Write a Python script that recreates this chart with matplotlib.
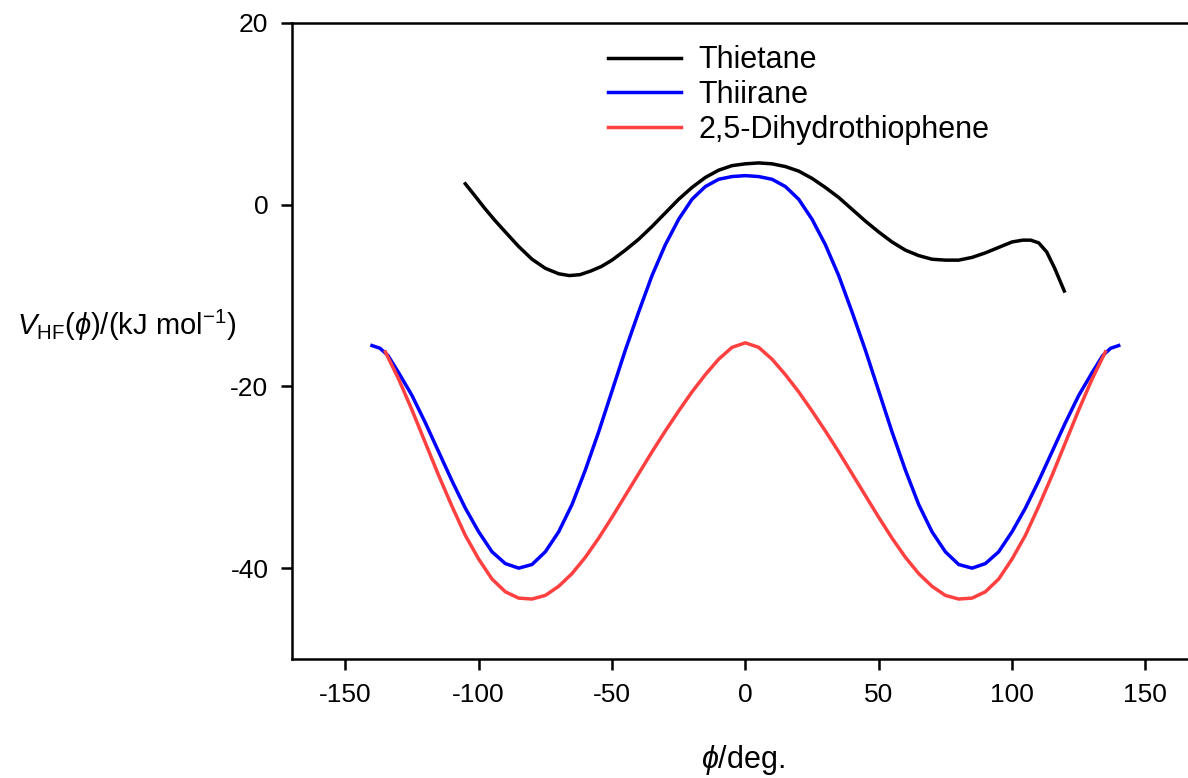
import matplotlib
matplotlib.use('Agg')
import matplotlib.pyplot as plt

plt.rcParams['font.family'] = ['Liberation Sans', 'DejaVu Sans']
plt.rcParams['mathtext.fontset'] = 'custom'
plt.rcParams['mathtext.rm'] = 'Liberation Sans'
plt.rcParams['mathtext.it'] = 'Liberation Sans:italic'
plt.rcParams['mathtext.fallback'] = 'stixsans'
plt.rcParams['axes.unicode_minus'] = False

# Thietane
phi_thietane = [-105, -102, -98, -94, -90, -85, -80, -75, -70, -66, -62, -58, -54, -50, -45, -40, -35, -30, -25,
                -20, -15, -10, -5, 0, 5, 10, 15, 20, 25, 30, 35, 40, 45, 50, 55, 60, 65, 70, 75, 80, 85, 90, 95,
                100, 104, 107, 110, 113, 116, 119.6]
v_thietane = [2.3, 1.2, -0.3, -1.7, -3.0, -4.6, -6.0, -7.0, -7.6, -7.8, -7.7, -7.3, -6.8, -6.1, -5.0, -3.8, -2.4,
              -0.9, 0.6, 1.9, 3.0, 3.8, 4.3, 4.5, 4.6, 4.5, 4.2, 3.7, 2.9, 1.9, 0.8, -0.5, -1.8, -3.0, -4.1, -5.0,
              -5.6, -6.0, -6.1, -6.1, -5.8, -5.3, -4.7, -4.1, -3.9, -3.9, -4.2, -5.2, -7.0, -9.5]

# Thiirane
phi_thiirane = [-140, -137, -134, -130, -125, -120, -115, -110, -105, -100, -95, -90, -85, -80, -75, -70, -65,
                -60, -55, -50, -45, -40, -35, -30, -25, -20, -15, -10, -5, 0,
                5, 10, 15, 20, 25, 30, 35, 40, 45, 50, 55, 60, 65, 70, 75, 80, 85, 90, 95, 100, 105, 110, 115,
                120, 125, 130, 134, 137, 140]
v_thiirane = [-15.5, -15.8, -16.6, -18.5, -21.0, -24.0, -27.2, -30.4, -33.4, -36.0, -38.2, -39.5, -40.0, -39.6,
              -38.2, -36.0, -33.0, -29.2, -25.0, -20.5, -16.0, -11.8, -7.8, -4.4, -1.6, 0.6, 2.0, 2.8, 3.1, 3.2,
              3.1, 2.8, 2.0, 0.6, -1.6, -4.4, -7.8, -11.8, -16.0, -20.5, -25.0, -29.2, -33.0, -36.0, -38.2,
              -39.6, -40.0, -39.5, -38.2, -36.0, -33.4, -30.4, -27.2, -24.0, -21.0, -18.5, -16.6, -15.8, -15.5]

# 2,5-Dihydrothiophene
phi_dht = [-135, -130, -125, -120, -115, -110, -105, -100, -95, -90, -85, -80, -75, -70, -65, -60, -55, -50,
           -45, -40, -35, -30, -25, -20, -15, -10, -5, 0,
           5, 10, 15, 20, 25, 30, 35, 40, 45, 50, 55, 60, 65, 70, 75, 80, 85, 90, 95, 100, 105, 110, 115, 120,
           125, 130, 135]
v_dht = [-16.2, -19.2, -22.6, -26.2, -29.8, -33.2, -36.4, -39.0, -41.2, -42.6, -43.3, -43.4, -43.0, -42.0,
         -40.6, -38.8, -36.7, -34.4, -32.0, -29.6, -27.2, -24.9, -22.7, -20.6, -18.7, -17.0, -15.7, -15.2,
         -15.7, -17.0, -18.7, -20.6, -22.7, -24.9, -27.2, -29.6, -32.0, -34.4, -36.7, -38.8, -40.6, -42.0,
         -43.0, -43.4, -43.3, -42.6, -41.2, -39.0, -36.4, -33.2, -29.8, -26.2, -22.6, -19.2, -16.2]

fig = plt.figure(figsize=(11.88, 7.78), dpi=100)
ax = fig.add_axes([292 / 1188, 1 - 659 / 778, 906.7 / 1188, 636 / 778])

lw = 2.5
ax.plot(phi_thietane, v_thietane, color='black', lw=lw, label='Thietane')
ax.plot(phi_thiirane, v_thiirane, color='#0000ff', lw=lw, label='Thiirane')
ax.plot(phi_dht, v_dht, color='#ff4040', lw=lw, label='2,5-Dihydrothiophene')

ax.set_xlim(-170, 170)
ax.set_ylim(-50, 20)
ax.set_xticks([-150, -100, -50, 0, 50, 100, 150])
ax.set_yticks([-40, -20, 0, 20])
ax.spines['right'].set_visible(False)
for s in ax.spines.values():
    s.set_linewidth(1.8)
ax.tick_params(direction='out', length=8, width=1.8, labelsize=19, pad=9)

ax.legend(loc='upper left', bbox_to_anchor=(0.335, 0.984), frameon=False, fontsize=22,
          handlelength=2.4, handletextpad=0.55, labelspacing=0.15, borderaxespad=0)

fig.text(127 / 1188, 1 - 325 / 778, r'$V_{\mathregular{HF}}(\phi)\mathregular{/(kJ\ mol^{-1})}$',
         ha='center', va='center', fontsize=21)
fig.text(743 / 1188, 1 - 760 / 778, r'$\phi\mathregular{/deg.}$', ha='center', va='center', fontsize=22)

fig.savefig('out.png', dpi=100)
